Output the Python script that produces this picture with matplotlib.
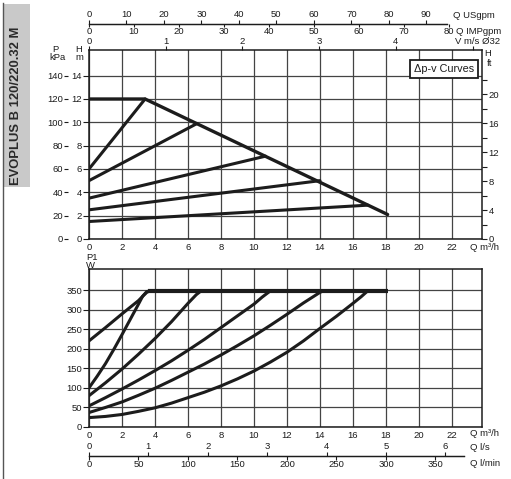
import matplotlib.pyplot as plt
from matplotlib.patches import Rectangle
from matplotlib.lines import Line2D

plt.rcParams['font.family'] = ['Liberation Sans', 'DejaVu Sans']
plt.rcParams['font.size'] = 6.8

# ---- data (Q in m3/h) ----
# head curves, H in m
max_q = [0, 3.4, 18.1]
max_h = [12, 12, 2.1]
dpv_q = [[0, 3.4], [0, 6.55], [0, 10.7], [0, 14.0], [0, 16.9]]
dpv_h = [[6, 12], [5, 9.9], [3.5, 7.1], [2.5, 5.0], [1.5, 2.9]]

# power input P1 in W
p1_max_q = [3.6, 18.1]
p1_max_w = [348, 348]
p1_q = [
    [0, 1, 2, 3, 3.3, 3.5, 3.7],
    [0, 0.5, 1, 1.5, 2, 2.5, 3, 3.25, 3.5, 3.7],
    [0, 1, 2, 3, 4, 5, 6, 6.5, 6.8],
    [0, 1, 2, 3, 4, 5, 6, 7, 8, 9, 10, 10.5, 11.0],
    [0, 1, 2, 3, 4, 5, 6, 7, 8, 9, 10, 11, 12, 13, 14, 14.2],
    [0, 1, 2, 3, 4, 5, 6, 7, 8, 9, 10, 11, 12, 13, 14, 15, 16, 16.5, 16.9],
]
p1_w = [
    [220, 254, 289, 323, 336, 344, 348],
    [100, 130, 162, 198, 236, 275, 314, 334, 346, 348],
    [80, 113, 148, 186, 226, 269, 316, 338, 348],
    [54, 75, 97, 120, 144, 169, 196, 224, 254, 284, 314, 332, 348],
    [37, 50, 64, 81, 99, 119, 140, 161, 184, 208, 233, 260, 288, 317, 344, 348],
    [24, 27, 32, 40, 49, 61, 75, 89, 105, 123, 143, 166, 191, 220, 252, 283, 316, 333, 348],
]

q_ticks = list(range(0, 23, 2))
h_ticks = list(range(0, 15, 2))
kpa_ticks = list(range(0, 141, 20))
ft_ticks = list(range(0, 21, 4))
ft_minor = list(range(2, 23, 4))
w_ticks = list(range(0, 351, 50))

# unit conversions, m3/h per unit
USGPM = 0.2271
IMPGPM = 0.2728
LPS = 3.6
LPM = 0.06
VMS = 4.65      # m/s for DN32 as drawn on the sheet
FT = 0.62       # m per ft step as drawn

Q_MAX = 23.82
W, H = 511, 479
ink = '#1c1c1c'
gridc = '#444444'

fig = plt.figure(figsize=(W / 100, H / 100), dpi=100)


def rect(x0, y0, x1, y1):
    return [x0 / W, 1 - y1 / H, (x1 - x0) / W, (y1 - y0) / H]


def scale_axis(y_px, per_unit, ticks, side, end_q, length=2.8, pad=0.6):
    a = fig.add_axes([89 / W, 1 - y_px / H, 393 / W, 1e-4])
    a.set_xlim(0, Q_MAX / per_unit)
    a.patch.set_visible(False)
    for s in a.spines.values():
        s.set_visible(False)
    a.spines[side].set_visible(True)
    a.spines[side].set_bounds(0, end_q / per_unit)
    a.spines[side].set_linewidth(0.9)
    a.spines[side].set_color(ink)
    a.yaxis.set_visible(False)
    a.xaxis.set_ticks_position(side)
    a.xaxis.set_label_position(side)
    a.set_xticks(ticks)
    a.tick_params(axis='x', direction='out', length=length, width=0.8,
                  pad=pad, colors=ink, labelcolor=ink)
    return a


# ---- title strip ----
fig.patches.append(Rectangle((3 / W, 1 - 187 / H), 27 / W, 183 / H,
                             transform=fig.transFigure, facecolor='#c9c9c9',
                             edgecolor='none'))
fig.add_artist(Line2D([3 / W, 3 / W], [0, 1 - 3 / H], color='#555555', lw=1.0))
fig.text(16.5 / W, 1 - 106 / H, 'EVOPLUS B 120/220.32 M', rotation=90,
         ha='center', va='center', fontsize=9.4, fontweight='bold', color='#2a2a2a')

# ---- head chart ----
ax = fig.add_axes(rect(89, 50, 482, 239))
ax.set_xlim(0, Q_MAX)
ax.set_ylim(0, 16.2)
ax.set_xticks(q_ticks)
ax.set_yticks(h_ticks)
ax.grid(True, color=gridc, lw=0.9)
ax.set_axisbelow(True)
ax.plot(max_q, max_h, color=ink, lw=2.4, solid_capstyle='round', solid_joinstyle='round')
for qs, hs in zip(dpv_q, dpv_h):
    ax.plot(qs, hs, color=ink, lw=2.2, solid_capstyle='round')
ax.tick_params(axis='x', length=0, pad=3, colors=ink)
ax.tick_params(axis='y', direction='out', length=4, width=0.8, pad=1, colors=ink)
for s in ax.spines.values():
    s.set_color(ink)
    s.set_linewidth(1.1)
ax.text(0.904, 0.9, '\u0394p-v Curves', transform=ax.transAxes, ha='center',
        va='center', fontsize=7.8, color=ink,
        bbox=dict(boxstyle='square,pad=0.35', fc='white', ec=ink, lw=1.3))

kpa = ax.secondary_yaxis((68 - 89) / 393, functions=(lambda h: h * 10, lambda p: p / 10))
kpa.set_yticks(kpa_ticks)
kpa.spines['left'].set_visible(False)
kpa.tick_params(direction='out', length=3, width=0.8, pad=0.5, colors=ink)

vel = ax.secondary_xaxis('top', functions=(lambda q: q / VMS, lambda v: v * VMS))
vel.set_xticks(range(6))
vel.set_xticklabels(['0', '1', '2', '3', '4', ''])
vel.spines['top'].set_visible(False)
vel.tick_params(direction='out', length=2.6, width=0.8, pad=0, colors=ink)

ft = ax.twinx()
ft.set_ylim(0, 16.2 / FT)
ft.set_yticks(ft_ticks)
ft.set_yticks(ft_minor, minor=True)
ft.tick_params(which='both', direction='out', length=3.6, width=0.8, pad=1, colors=ink)
for s in ft.spines.values():
    s.set_visible(False)

fig.text(55 / W, 1 - 50 / H, 'P', ha='center', va='center', color=ink)
fig.text(57 / W, 1 - 57.5 / H, 'kPa', ha='center', va='center', color=ink)
fig.text(79 / W, 1 - 50 / H, 'H', ha='center', va='center', color=ink)
fig.text(79 / W, 1 - 57.5 / H, 'm', ha='center', va='center', color=ink)
fig.text(488 / W, 1 - 53 / H, 'H', ha='center', va='center', color=ink)
fig.text(490 / W, 1 - 63 / H, 'ft', ha='center', va='center', color=ink)
fig.text(470 / W, 1 - 248 / H, 'Q m\u00b3/h', ha='left', va='center', color=ink)

# top flow scales
scale_axis(24, USGPM, range(0, 91, 10), 'top', 21.7)
scale_axis(24, IMPGPM, range(0, 81, 10), 'bottom', 21.7, length=2.2, pad=0)
fig.text(453 / W, 1 - 15 / H, 'Q USgpm', ha='left', va='center', color=ink)
fig.text(456 / W, 1 - 31 / H, 'Q IMPgpm', ha='left', va='center', color=ink)
fig.text(455 / W, 1 - 42 / H, 'V m/s \u00d832', ha='left', va='center', color=ink)

# ---- power chart ----
bx = fig.add_axes(rect(89, 269, 482, 427))
bx.set_xlim(0, Q_MAX)
bx.set_ylim(0, 403.7)
bx.set_xticks(q_ticks)
bx.set_yticks(w_ticks)
bx.grid(True, color=gridc, lw=0.9)
bx.set_axisbelow(True)
for qs, ws in zip(p1_q, p1_w):
    bx.plot(qs, ws, color=ink, lw=2.2, solid_capstyle='round', solid_joinstyle='round')
bx.plot(p1_max_q, p1_max_w, color=ink, lw=3.0, solid_capstyle='butt')
bx.tick_params(axis='x', length=0, pad=3, colors=ink)
bx.tick_params(axis='y', direction='out', length=4, width=0.8, pad=1, colors=ink)
for s in bx.spines.values():
    s.set_color(ink)
    s.set_linewidth(1.1)

fig.text(92 / W, 1 - 257.5 / H, 'P1', ha='center', va='center', color=ink)
fig.text(90 / W, 1 - 265 / H, 'W', ha='center', va='center', color=ink)
fig.text(470 / W, 1 - 434 / H, 'Q m\u00b3/h', ha='left', va='center', color=ink)

# bottom flow scales
scale_axis(455.7, LPS, range(0, 7), 'top', 22.7)
scale_axis(455.7, LPM, range(0, 351, 50), 'bottom', 22.7)
fig.text(470 / W, 1 - 447 / H, 'Q l/s', ha='left', va='center', color=ink)
fig.text(470 / W, 1 - 463.5 / H, 'Q l/min', ha='left', va='center', color=ink)

fig.savefig('out.png', dpi=100, facecolor='white')
